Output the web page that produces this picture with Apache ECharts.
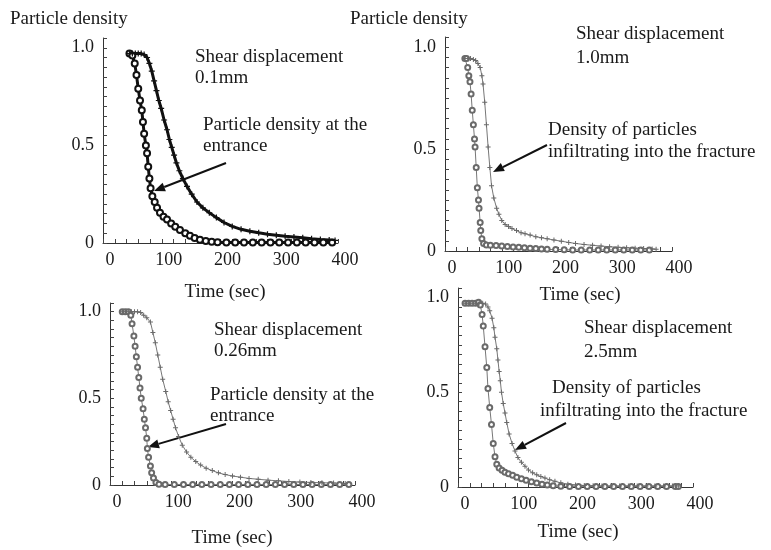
<!DOCTYPE html>
<html><head><meta charset="utf-8">
<script src="https://cdn.jsdelivr.net/npm/echarts/dist/echarts.min.js"></script>
<style>html,body{margin:0;padding:0;background:#fff}#c{width:771px;height:550px}</style>
</head><body><div id="c"></div>
<script>
// ---------- tick labels ----------
const xTickLabels = ['0', '100', '200', '300', '400'];
const yTickLabels = ['0', '0.5', '1.0'];

// ---------- Panel 1 : shear displacement 0.1mm ----------
const p1EntT = [45,50,54,57,60,63,66,68,70,73,75,77,79,81,84,88,92,97,103,109,116,123,131,140,148,156,165,175,185,195,210,225,240,255,270,285,300,315,330,345,360,375,390];
const p1EntV = [0.97,0.96,0.92,0.86,0.79,0.73,0.68,0.62,0.56,0.50,0.46,0.39,0.33,0.28,0.24,0.21,0.18,0.155,0.135,0.12,0.10,0.083,0.067,0.05,0.037,0.026,0.017,0.01,0.006,0.004,0.003,0.003,0.003,0.003,0.003,0.003,0.003,0.003,0.003,0.003,0.003,0.003,0.003];
const p1InfT = [45,50,55,60,65,70,75,79,83,87,91,95,99,104,109,113,117,121,125,130,136,143,151,160,170,181,193,206,220,235,250,265,280,295,310,325,340,355,370,385,395];
const p1InfV = [0.97,0.97,0.97,0.97,0.97,0.965,0.95,0.92,0.88,0.83,0.78,0.73,0.69,0.63,0.58,0.53,0.49,0.45,0.41,0.37,0.33,0.29,0.25,0.21,0.18,0.155,0.13,0.105,0.085,0.07,0.06,0.052,0.045,0.04,0.035,0.031,0.027,0.022,0.018,0.015,0.013];

// ---------- Panel 2 : shear displacement 1.0mm ----------
const p2EntT = [35,38,40,42,44,46,48,50,52,53,55,57,59,60,62,63,65,68,73,80,90,100,110,120,130,140,150,160,170,180,195,210,225,240,255,270,285,300,315,330,345,360];
const p2EntV = [0.945,0.945,0.90,0.86,0.83,0.77,0.69,0.62,0.55,0.51,0.41,0.31,0.25,0.21,0.14,0.10,0.06,0.037,0.03,0.028,0.027,0.025,0.022,0.02,0.018,0.016,0.014,0.012,0.01,0.008,0.007,0.006,0.005,0.005,0.005,0.005,0.005,0.005,0.005,0.005,0.005,0.005];
const p2InfT = [35,40,45,50,54,58,62,65,67,70,73,76,79,82,86,91,95,100,106,112,118,126,134,141,150,160,170,180,192,205,218,230,245,260,275,290,305,320,335,350,365,372];
const p2InfV = [0.945,0.945,0.945,0.94,0.935,0.92,0.90,0.86,0.82,0.73,0.62,0.51,0.41,0.32,0.26,0.21,0.18,0.15,0.13,0.12,0.11,0.10,0.09,0.085,0.078,0.07,0.065,0.06,0.054,0.048,0.042,0.037,0.032,0.028,0.024,0.021,0.018,0.016,0.014,0.012,0.01,0.009];

// ---------- Panel 3 : shear displacement 0.26mm ----------
const p3EntT = [20,25,30,34,36,39,41,43,45,47,49,51,54,56,58,60,61,63,66,68,71,75,80,90,105,120,135,150,165,180,195,210,225,240,255,270,285,300,315,330,345,360,375,390];
const p3EntV = [1.0,1.0,1.0,0.98,0.93,0.86,0.80,0.74,0.68,0.62,0.56,0.50,0.44,0.38,0.33,0.27,0.21,0.16,0.11,0.07,0.04,0.015,0.005,0.003,0.003,0.003,0.003,0.003,0.003,0.003,0.003,0.003,0.003,0.003,0.003,0.003,0.003,0.003,0.003,0.003,0.003,0.003,0.003,0.003];
const p3InfT = [20,25,30,35,40,45,50,55,60,66,70,74,78,82,86,91,95,99,103,107,112,118,125,132,140,148,157,167,177,188,200,213,227,242,258,275,292,310,328,346,365,384];
const p3InfV = [1.0,1.0,1.0,1.0,1.0,1.0,0.995,0.98,0.965,0.94,0.88,0.82,0.75,0.68,0.61,0.54,0.48,0.43,0.38,0.33,0.28,0.23,0.19,0.16,0.135,0.115,0.097,0.083,0.07,0.06,0.052,0.045,0.038,0.033,0.028,0.024,0.02,0.017,0.015,0.013,0.011,0.009];

// ---------- Panel 4 : shear displacement 2.5mm ----------
const p4EntT = [12,18,24,30,35,38,41,43,46,49,51,54,57,60,63,66,70,75,80,86,93,100,108,116,125,134,143,152,162,175,190,205,220,235,250,265,280,295,310,325,340,355,370,375];
const p4EntV = [0.97,0.97,0.97,0.97,0.975,0.96,0.91,0.85,0.74,0.63,0.52,0.42,0.33,0.23,0.16,0.12,0.10,0.088,0.078,0.07,0.062,0.052,0.044,0.036,0.028,0.021,0.015,0.01,0.006,0.004,0.003,0.003,0.003,0.003,0.003,0.003,0.003,0.003,0.003,0.003,0.003,0.003,0.003,0.003];
const p4InfT = [12,18,24,30,36,42,47,51,54,58,61,63,66,68,70,72,74,77,80,83,87,92,97,102,108,114,120,127,134,141,148,156,165,175,187,200,215,230,245,260,275,290,305,320,335,350,365,375];
const p4InfV = [0.97,0.97,0.97,0.97,0.97,0.97,0.965,0.95,0.93,0.89,0.84,0.79,0.73,0.67,0.61,0.56,0.50,0.44,0.39,0.34,0.28,0.23,0.19,0.155,0.13,0.11,0.09,0.075,0.064,0.055,0.047,0.038,0.03,0.022,0.015,0.011,0.008,0.006,0.005,0.005,0.005,0.005,0.005,0.005,0.005,0.005,0.005,0.005];

// ---------- layout (pixels) ----------
const grids = [
  {left:103, top:38,  width:235, height:205},
  {left:445, top:37,  width:227, height:214},
  {left:110, top:303, width:245, height:182},
  {left:458, top:288, width:235, height:199}
];
const FONT = "'Liberation Serif','Times New Roman',serif";
const TXT = '#1a1a1a';

const pair = (t, v) => t.map((x, i) => [x, v[i]]);
const plusPath = 'path://M4,0h2v4h4v2h-4v4h-2v-4h-4v-2h4z';

const xAxes = grids.map((g, i) => ({
  type:'value', gridIndex:i, min:0, max:400, interval:20,
  axisLine:{show:true, onZero:false, lineStyle:{color:'#333', width:1}},
  axisTick:{show:true, inside:true, length:4, lineStyle:{color:'#444', width:1}},
  splitLine:{show:false},
  axisLabel:{show:true, margin:8, fontFamily:FONT, fontSize:18, color:TXT, padding:[0,0,0,14],
    formatter: v => (Math.abs(v % 100) < 1e-6 ? xTickLabels[Math.round(v/100)] : '')}
}));
const yAxes = grids.map((g, i) => ({
  type:'value', gridIndex:i, min:0, max:1.05, interval:0.05,
  axisLine:{show:true, onZero:false, lineStyle:{color:'#333', width:1}},
  axisTick:{show:true, inside:true, length:4, lineStyle:{color:'#444', width:1}},
  splitLine:{show:false},
  axisLabel:{show:true, margin:9, fontFamily:FONT, fontSize:18, color:TXT,
    formatter: v => { for (let k = 0; k < yTickLabels.length; k++) { if (Math.abs(v - 0.5*k) < 1e-6) return yTickLabels[k]; } return ''; }}
}));

function mk(i, t, v, entrance, dark) {
  const col = dark ? '#111' : '#6a6a6a';
  return {
    type:'line', xAxisIndex:i, yAxisIndex:i, data:pair(t, v), silent:true, animation:false,
    symbol: entrance ? 'emptyCircle' : plusPath,
    symbolSize: dark ? 6 : 5,
    lineStyle:{color: dark ? '#111' : '#777', width: dark ? 3 : 1},
    itemStyle:{color: col, borderColor: col, borderWidth: entrance ? (dark ? 1.6 : 1.2) : 0}
  };
}

const series = [
  mk(0, p1EntT, p1EntV, true, true),  mk(0, p1InfT, p1InfV, false, true),
  mk(1, p2EntT, p2EntV, true, false), mk(1, p2InfT, p2InfV, false, false),
  mk(2, p3EntT, p3EntV, true, false), mk(2, p3InfT, p3InfV, false, false),
  mk(3, p4EntT, p4EntV, true, false), mk(3, p4InfT, p4InfV, false, false)
];

// ---------- annotations ----------
function txtC(s, x, y) {
  return {type:'text', x:x, y:y, silent:true,
    style:{text:s, font:'19px ' + FONT, fill:TXT, textAlign:'center', textVerticalAlign:'middle'}};
}
function txtL(s, x, y) {
  return {type:'text', x:x, y:y, silent:true,
    style:{text:s, font:'19px ' + FONT, fill:TXT, textAlign:'left', textVerticalAlign:'middle'}};
}
function arrow(x1, y1, x2, y2) {
  const a = Math.atan2(y2 - y1, x2 - x1), L = 11, W = 4.5;
  const bx = x2 - L*Math.cos(a), by = y2 - L*Math.sin(a);
  const px = -Math.sin(a)*W, py = Math.cos(a)*W;
  return [
    {type:'line', silent:true, shape:{x1:x1, y1:y1, x2:bx, y2:by}, style:{stroke:'#111', lineWidth:2}},
    {type:'polygon', silent:true, shape:{points:[[x2,y2],[bx+px,by+py],[bx-px,by-py]]}, style:{fill:'#111'}}
  ];
}

const graphic = [
  txtL('Particle density', 10, 19),
  txtL('Particle density', 350, 19),
  txtC('Time (sec)', 225, 292),
  txtC('Time (sec)', 580, 295),
  txtC('Time (sec)', 232, 538),
  txtC('Time (sec)', 578, 532),
  // panel 1
  txtL('Shear displacement', 195, 57), txtL('0.1mm', 195, 78),
  txtL('Particle density at the', 203, 125), txtL('entrance', 203, 146),
  // panel 2
  txtL('Shear displacement', 576, 34), txtL('1.0mm', 576, 58),
  txtL('Density of particles', 548, 130), txtL('infiltrating into the fracture', 548, 152),
  // panel 3
  txtL('Shear displacement', 214, 330), txtL('0.26mm', 214, 351),
  txtL('Particle density at the', 210, 395), txtL('entrance', 210, 416),
  // panel 4
  txtL('Shear displacement', 584, 328), txtL('2.5mm', 584, 352),
  txtL('Density of particles', 552, 388), txtL('infiltrating into the fracture', 540, 411)
].concat(arrow(226,163,154,191), arrow(547,145,493,172), arrow(226,424,148,447), arrow(566,423,515,450));

const chart = echarts.init(document.getElementById('c'), null, {renderer:'canvas'});
chart.setOption({
  animation:false,
  backgroundColor:'#fff',
  grid: grids,
  xAxis: xAxes,
  yAxis: yAxes,
  series: series,
  graphic: graphic
});
</script>
</body></html>
